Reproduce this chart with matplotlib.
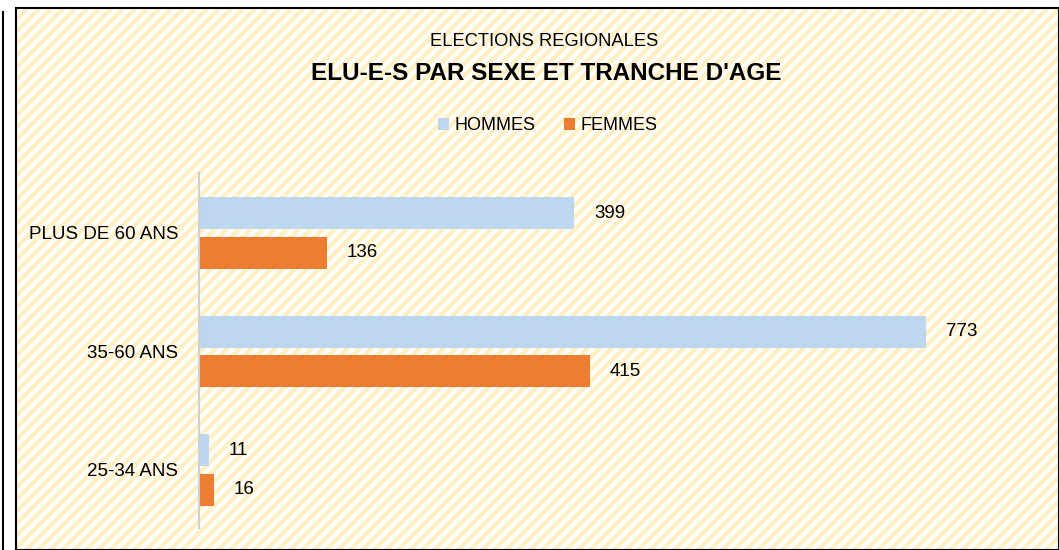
import matplotlib
matplotlib.use("Agg")
import matplotlib.pyplot as plt
from matplotlib.collections import LineCollection
from matplotlib.patches import Rectangle
import numpy as np

categories = ["25-34 ANS", "35-60 ANS", "PLUS DE 60 ANS"]
hommes = [11, 773, 399]
femmes = [16, 415, 136]
series_names = ["HOMMES", "FEMMES"]
colors = ["#BDD7EE", "#ED7D31"]

plt.rcParams['font.family'] = ['Liberation Sans', 'DejaVu Sans']

W, H = 1059, 550
fig = plt.figure(figsize=(W/100, H/100), dpi=100)
fig.patch.set_facecolor("white")

# Background frame with diagonal stripes (decoration)
bx0, by0 = 16, 0  # pixel coords (from bottom)
bx1, by1 = W, H - 8
segs = []
period = 12
for c in np.arange(-H, W + H, period):
    segs.append([(c, 0), (c + H, H)])
lc = LineCollection(segs, colors="#FFF0C6", linewidths=3.4,
                    transform=None, zorder=0)
clip = Rectangle((bx0, by0), bx1 - bx0, by1 - by0, transform=None)
lc.set_clip_path(clip)
fig.add_artist(lc)
frame = Rectangle((bx0 / W, by0 / H), (bx1 - bx0) / W, (by1 - by0) / H,
                  transform=fig.transFigure, fill=False, edgecolor="black",
                  linewidth=1.5, zorder=1)
fig.add_artist(frame)
fig.add_artist(plt.Line2D([2.5 / W, 2.5 / W], [0, (H - 12) / H],
                          transform=fig.transFigure, color="black", linewidth=1.5))

# Axes
ax_left = 199 / W
ax_bottom = (H - 528) / H
ax_top = (H - 173) / H
xmax = 900
ax_width = (xmax * 0.941) / W
ax = fig.add_axes([ax_left, ax_bottom, ax_width, ax_top - ax_bottom])
ax.set_facecolor("none")

y = np.arange(len(categories))
h = 0.27
off = 0.167
b1 = ax.barh(y + off, hommes, height=h, color=colors[0], label=series_names[0])
b2 = ax.barh(y - off, femmes, height=h, color=colors[1], label=series_names[1])

for bars in (b1, b2):
    for rect in bars:
        v = rect.get_width()
        ax.text(v + 21, rect.get_y() + rect.get_height() / 2, f"{int(v)}",
                va="center", ha="left", fontsize=13.5, color="black")

ax.set_xlim(0, xmax)
ax.set_ylim(-0.49, 2.506)
ax.set_yticks(y)
ax.set_yticklabels(categories, fontsize=13.5)
ax.tick_params(axis="y", length=0, pad=15)
ax.set_xticks([])
for s in ["top", "right", "bottom"]:
    ax.spines[s].set_visible(False)
ax.spines["left"].set_color("#D0D0D0")
ax.spines["left"].set_linewidth(1.5)

fig.text(544 / W, 1 - 41 / H, "ELECTIONS REGIONALES", ha="center", va="center",
         fontsize=13.2)
fig.text(546 / W, 1 - 73 / H, "ELU-E-S PAR SEXE ET TRANCHE D'AGE", ha="center",
         va="center", fontsize=17.5, fontweight="bold")

leg = fig.legend(handles=[b1, b2], loc="center", bbox_to_anchor=(548 / W, 1 - 126 / H),
                 ncol=2, frameon=False, fontsize=13, handlelength=0.6,
                 handleheight=0.6, handletextpad=0.3, columnspacing=1.6)

fig.savefig("out.png", dpi=100)
